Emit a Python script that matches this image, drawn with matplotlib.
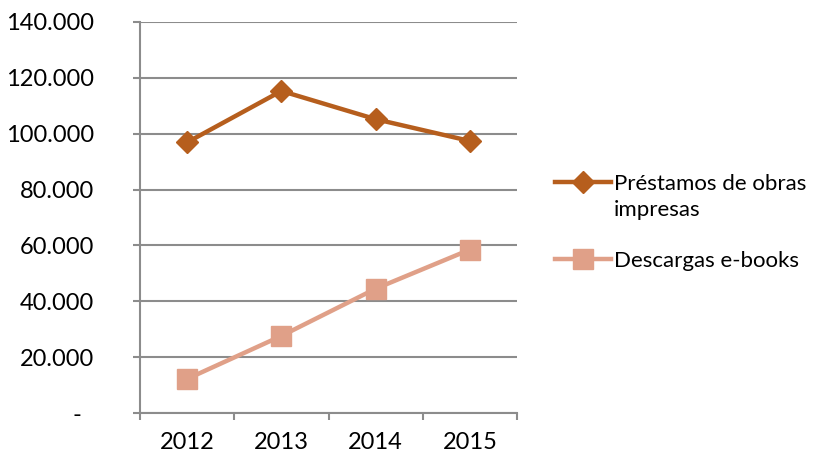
import matplotlib.pyplot as plt
from matplotlib.ticker import FixedLocator, FuncFormatter
from matplotlib.legend_handler import HandlerLine2D
import numpy as np

# data
years = ['2012', '2013', '2014', '2015']
prestamos = [96900, 115300, 105200, 97400]
descargas = [12200, 27600, 44500, 58500]
label_prestamos = 'Préstamos de obras\nimpresas'
label_descargas = 'Descargas e-books'

plt.rcParams['font.family'] = ['Lato', 'DejaVu Sans']
FS = 17
LEG_FS = 16
LEG_LS = 1.35
GRID = '#8c8c8c'


# legend handle sitting on the first text line (like Excel), not centred
class TopLineHandler(HandlerLine2D):
    def __init__(self, shift, **kw):
        super().__init__(**kw)
        self.shift = shift

    def create_artists(self, legend, orig_handle, xdescent, ydescent,
                       width, height, fontsize, trans):
        return super().create_artists(legend, orig_handle, xdescent,
                                      ydescent - 2 * self.shift, width, height,
                                      fontsize, trans)


fig = plt.figure(figsize=(8.32, 4.55), dpi=100)
ax = fig.add_axes([140/832, 42/455, 377/832, 391/455])

x = np.arange(len(years))
l1, = ax.plot(x, prestamos, color='#B65E1D', lw=3.2, marker='D', ms=11, label=label_prestamos)
l2, = ax.plot(x, descargas, color='#E0A088', lw=3.2, marker='s', ms=14, label=label_descargas)

ax.set_xlim(-0.5, len(years) - 0.5)
ax.set_ylim(0, 140000)
ax.set_yticks(np.arange(0, 140001, 20000))
ax.yaxis.set_major_formatter(FuncFormatter(
    lambda v, p: '-  ' if v == 0 else f'{int(v):,}'.replace(',', '.')))
ax.set_xticks(x)
ax.set_xticklabels(years)
ax.xaxis.set_minor_locator(FixedLocator(np.arange(-0.5, len(years), 1)))

ax.grid(axis='y', color=GRID, lw=1.5)
ax.set_axisbelow(True)
for s in ['top', 'right']:
    ax.spines[s].set_visible(False)
for s in ['left', 'bottom']:
    ax.spines[s].set_color(GRID)
    ax.spines[s].set_linewidth(1.5)

ax.tick_params(axis='y', length=5, width=1.5, color=GRID, labelsize=FS, pad=28)
ax.tick_params(axis='x', which='major', length=0, labelsize=FS, pad=14)
ax.tick_params(axis='x', which='minor', length=5, width=1.5, color=GRID)

leg = fig.legend(handles=[l1, l2], loc='upper left', bbox_to_anchor=(555/832, 1 - 174/455),
                 frameon=False, fontsize=LEG_FS, handlelength=2.5, handletextpad=0.15,
                 labelspacing=1.4, borderaxespad=0, borderpad=0,
                 handler_map={l1: TopLineHandler(shift=LEG_FS * LEG_LS / 2)})
for t in leg.get_texts():
    t.set_linespacing(LEG_LS)

fig.savefig('out.png', dpi=100)
